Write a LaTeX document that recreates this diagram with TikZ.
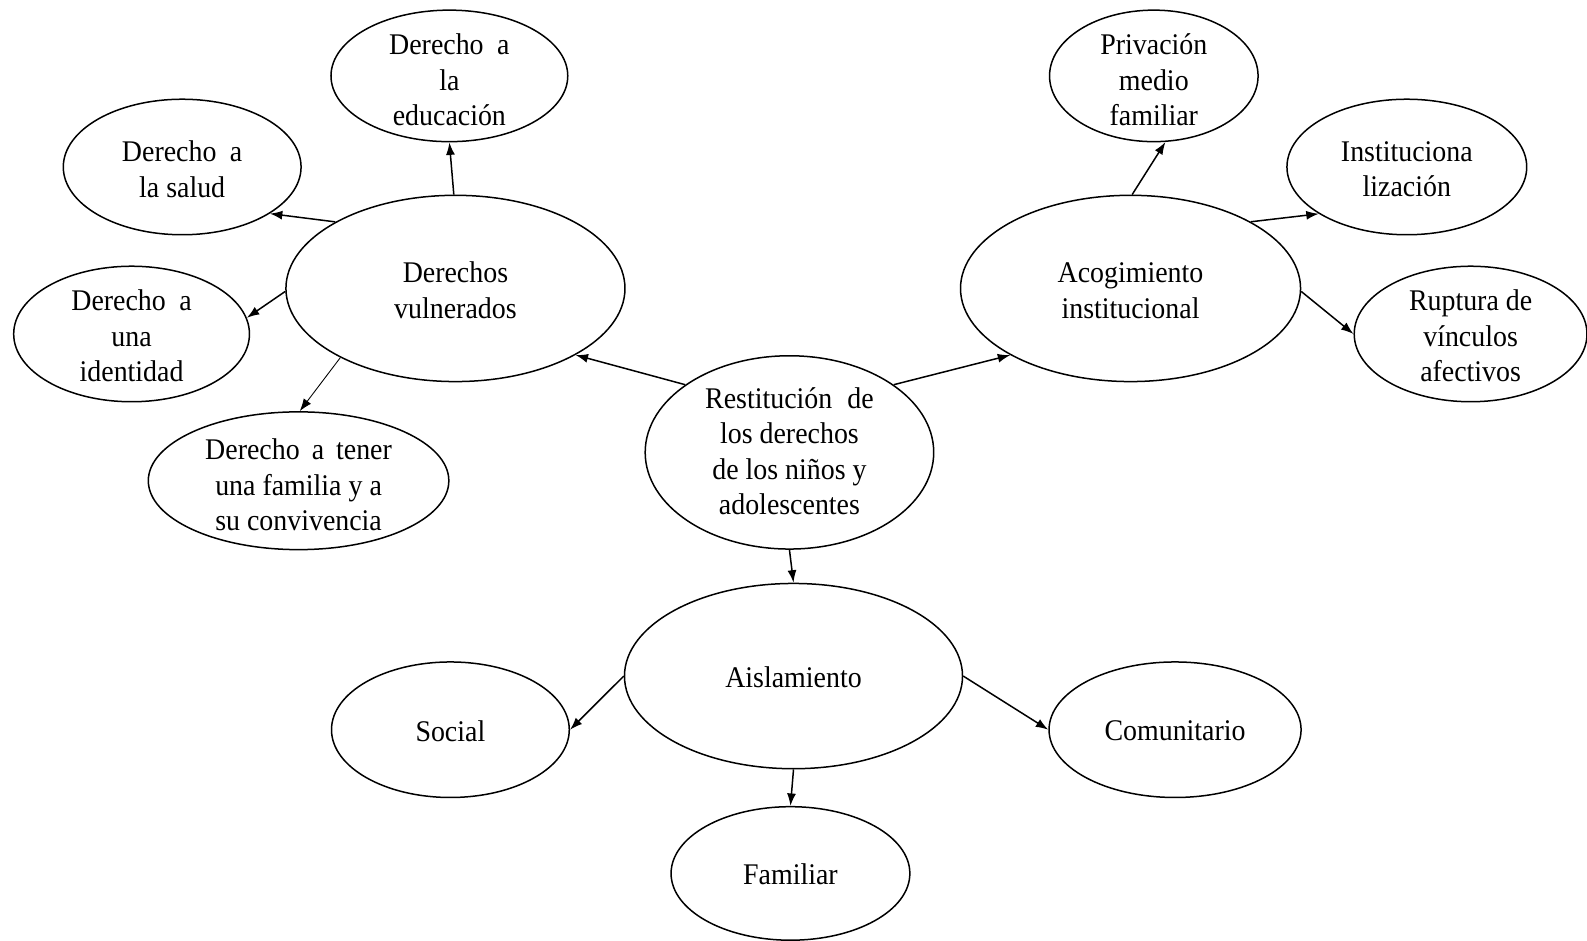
\documentclass[tikz,border=0pt]{standalone}
\usepackage{fontspec}
\setmainfont{Liberation Serif}[FakeStretch=0.93]
\usetikzlibrary{shapes.geometric,arrows.meta}
\tikzset{
  ell/.style 2 args={ellipse, draw, line width=0.6pt, minimum width=#1, minimum height=#2, inner sep=0pt},
  txt/.style={align=center, inner sep=0pt, font=\fontsize{12}{14.2}\selectfont},
  arr/.style={-{Latex[length=5pt,width=3.6pt]}, line width=0.6pt},
  thinarr/.style={-{Latex[length=5pt,width=3.6pt]}, line width=0.35pt}
}
\begin{document}
\begin{tikzpicture}[x=0.4048pt,y=-0.4048pt]
\useasboundingbox (0,0) rectangle (1568,929);
% ellipses
\node[ell={94.7pt}{52.6pt}] (edu) at (444,75) {};
\node[ell={95.1pt}{54.2pt}] (sal) at (180,165) {};
\node[ell={94.3pt}{54.2pt}] (ide) at (130,330) {};
\node[ell={135.6pt}{74.5pt}] (dv) at (450,285) {};
\node[ell={120.2pt}{55.1pt}] (fam) at (295,475) {};
\node[ell={115.4pt}{77.3pt}] (res) at (780,447) {};
\node[ell={136pt}{74.5pt}] (aco) at (1117,285) {};
\node[ell={83.4pt}{52.6pt}] (pri) at (1140,75) {};
\node[ell={95.9pt}{54.2pt}] (ins) at (1390,165) {};
\node[ell={93.1pt}{54.2pt}] (rup) at (1453,330) {};
\node[ell={135.2pt}{74.1pt}] (ais) at (784,668) {};
\node[ell={95.1pt}{54.2pt}] (soc) at (445,721) {};
\node[ell={100.8pt}{54.2pt}] (com) at (1161,721) {};
\node[ell={95.5pt}{53.4pt}] (fml) at (781,863) {};
% texts
\node[txt] (edu-t) at (444,79) {Derecho\hspace{0.45em}a\\la\\educación};
\node[txt] (sal-t) at (180,167) {Derecho\hspace{0.45em}a\\la salud};
\node[txt] (ide-t) at (130,332) {Derecho\hspace{0.45em}a\\una\\identidad};
\node[txt] (dv-t) at (450,287) {Derechos\\vulnerados};
\node[txt] (fam-t) at (295,479) {Derecho\hspace{0.4em}a\hspace{0.4em}tener\\una familia y a\\su convivencia};
\node[txt] (res-t) at (780,446) {Restitución\hspace{0.5em}de\\los derechos\\de los niños y\\adolescentes};
\node[txt] (aco-t) at (1117,287) {Acogimiento\\institucional};
\node[txt] (pri-t) at (1140,79) {Privación\\medio\\familiar};
\node[txt] (ins-t) at (1390,167) {Instituciona\\lización};
\node[txt] (rup-t) at (1453,332) {Ruptura de\\vínculos\\afectivos};
\node[txt] (ais-t) at (784,669) {Aislamiento};
\node[txt] (soc-t) at (445,722) {Social};
\node[txt] (com-t) at (1161,722) {Comunitario};
\node[txt] (fml-t) at (781,864) {Familiar};
% connectors
\draw[arr] (dv.91) -- (edu.270);
\draw[arr] (dv.151) -- (sal.332);
\draw[arr] (dv.181) -- (ide.8);
\draw[thinarr] (dv.211) -- (fam.89);
\draw[arr] (res.147) -- (dv.331);
\draw[arr] (res.33) -- (aco.209);
\draw[arr] (aco.89) -- (pri.280);
\draw[arr] (aco.29) -- (ins.208);
\draw[arr] (aco.359) -- (rup.180);
\draw[arr] (res.270) -- (ais.90);
\draw[arr] (ais.180) -- (soc.0);
\draw[arr] (ais.0) -- (com.180);
\draw[arr] (ais.270) -- (fml.90);
\end{tikzpicture}
\end{document}
